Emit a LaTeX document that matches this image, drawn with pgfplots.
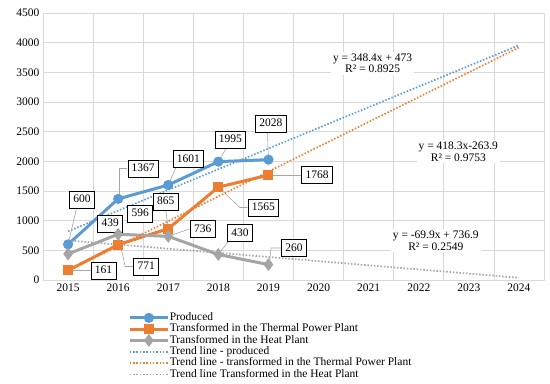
\documentclass[border=0pt]{standalone}
\usepackage{fontspec}
\setmainfont{Liberation Serif}
\usepackage{pgfplots}
\pgfplotsset{compat=1.18}
\definecolor{cblue}{HTML}{5B9BD5}
\definecolor{corange}{HTML}{ED7D31}
\definecolor{cgray}{HTML}{A5A5A5}
\definecolor{cgrid}{HTML}{D9D9D9}
\definecolor{clead}{HTML}{A6A6A6}
\begin{document}
\begin{tikzpicture}[
  lab/.style={draw=black, line width=0.8pt, fill=white, inner xsep=3.8pt, inner ysep=0pt, minimum height=17pt, text height=7.8pt, text depth=1.5pt, font=\fontsize{11.5}{13}\selectfont},
  eq/.style={fill=white, inner sep=2pt, align=center, font=\fontsize{11.5}{11.5}\selectfont},
  lead/.style={draw=clead, line width=0.6pt}]
\begin{axis}[
  scale only axis, width=501pt, height=267pt,
  xmin=0.5, xmax=10.5, ymin=0, ymax=4500,
  xtick={1,...,10},
  xticklabels={2015,2016,2017,2018,2019,2020,2021,2022,2023,2024},
  minor xtick={0.5,1.5,...,10.5},
  ytick={0,500,...,4500},
  xmajorgrids=false, xminorgrids=true, ymajorgrids=true,
  grid style={cgrid, line width=0.8pt},
  minor grid style={cgrid, line width=0.8pt},
  axis line style={cgrid, line width=0.8pt},
  major tick length=0pt, minor tick length=0pt,
  tick label style={font=\fontsize{11.5}{13}\selectfont},
  /pgf/number format/assume math mode=true,
  yticklabel style={/pgf/number format/1000 sep={}},
  scaled y ticks=false,
  legend cell align=left,
  legend style={at={(0.17,-0.12)}, anchor=north west, draw=none, fill=none,
    font=\fontsize{11.5}{11.5}\selectfont, row sep=0pt, inner sep=0pt,
    nodes={inner sep=0.4pt, text height=8pt, text depth=2.5pt}},
  legend image code/.code={\draw[mark repeat=2,mark phase=2] plot coordinates {(0pt,0pt) (19pt,0pt) (38pt,0pt)};},
]
\coordinate (bl) at (rel axis cs:0,0);
\coordinate (tr) at (rel axis cs:1,1);
% data series
\addplot[cblue, line width=3pt, mark=*, mark size=3.5pt, mark options={solid, fill=cblue}] coordinates {(1,600) (2,1367) (3,1601) (4,1995) (5,2028)};
\addlegendentry{Produced}
\addplot[corange, line width=3pt, mark=square*, mark size=3.5pt, mark options={solid, fill=corange}] coordinates {(1,161) (2,596) (3,865) (4,1565) (5,1768)};
\addlegendentry{Transformed in the Thermal Power Plant}
\addplot[cgray, line width=3pt, mark=diamond*, mark size=4pt, mark options={solid, fill=cgray}] coordinates {(1,439) (2,771) (3,736) (4,430) (5,260)};
\addlegendentry{Transformed in the Heat Plant}
% trend lines
\addplot[cblue, line width=1.7pt, dash pattern=on 1.5pt off 1.8pt] coordinates {(1,821.4) (10,3957)};
\addlegendentry{Trend line - produced}
\addplot[corange, line width=1.7pt, dash pattern=on 1.5pt off 1.8pt] coordinates {(1,154.4) (10,3919.1)};
\addlegendentry{Trend line - transformed in the Thermal Power Plant}
\addplot[cgray, line width=1.7pt, dash pattern=on 1.5pt off 1.8pt] coordinates {(1,667.0) (10,37.9)};
\addlegendentry{Trend line Transformed in the Heat Plant}
% leader lines
\draw[lead] (axis cs:1.17,1210) -- (axis cs:1,600);
\draw[lead] (axis cs:2.18,1879) -- (axis cs:2.02,1879) -- (axis cs:2.02,1367);
\draw[lead] (axis cs:3.17,1930) -- (axis cs:3,1601);
\draw[lead] (axis cs:4.17,2240) -- (axis cs:4,1995);
\draw[lead] (axis cs:4.98,2500) -- (axis cs:5,2028);
\draw[lead] (axis cs:5,1768) -- (axis cs:5.65,1768);
\draw[lead] (axis cs:4,1565) -- (axis cs:4.43,1222) -- (axis cs:4.58,1222);
\draw[lead] (axis cs:2.95,1180) -- (axis cs:3,865);
\draw[lead] (axis cs:3.42,860) -- (axis cs:3,736);
\draw[lead] (axis cs:4.2,650) -- (axis cs:4,430);
\draw[lead] (axis cs:2.30,228) -- (axis cs:2.14,228) -- (axis cs:2,771);
\draw[lead] (axis cs:1.05,161) -- (axis cs:1.45,161);
\draw[lead] (axis cs:5.29,539) -- (axis cs:5.05,539) -- (axis cs:5.02,260);
% data labels
\node[lab] at (axis cs:1.28,1357) {600};
\node[lab] at (axis cs:2.50,1879) {1367};
\node[lab] at (axis cs:3.40,2039) {1601};
\node[lab] at (axis cs:4.24,2368) {1995};
\node[lab] at (axis cs:5.05,2638) {2028};
\node[lab] at (axis cs:5.97,1770) {1768};
\node[lab] at (axis cs:4.90,1222) {1565};
\node[lab] at (axis cs:2.95,1323) {865};
\node[lab] at (axis cs:2.44,1121) {596};
\node[lab] at (axis cs:1.84,952) {439};
\node[lab] at (axis cs:3.69,860) {736};
\node[lab] at (axis cs:4.43,792) {430};
\node[lab] at (axis cs:2.56,228) {771};
\node[lab] at (axis cs:1.71,160) {161};
\node[lab] at (axis cs:5.51,539) {260};
% trend equations
\node[eq] at (axis cs:7.08,3652) {y = 348.4x + 473\\R² = 0.8925};
\node[eq] at (axis cs:8.79,2162) {y = 418.3x-263.9\\R² = 0.9753};
\node[eq] at (axis cs:8.34,662) {y = -69.9x + 736.9\\R² = 0.2549};
\end{axis}
\pgfresetboundingbox
\path ([xshift=-43pt,yshift=-104pt]bl) rectangle ([xshift=6pt,yshift=13pt]tr);
\end{tikzpicture}
\end{document}
